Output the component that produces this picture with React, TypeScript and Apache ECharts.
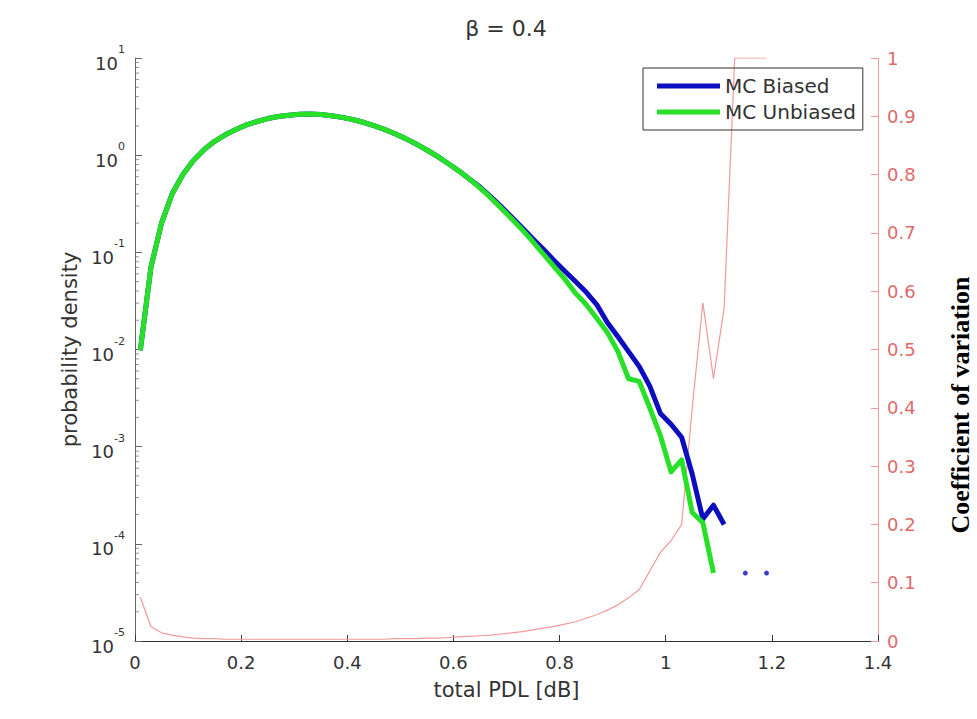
import React, { useEffect, useRef } from "react";
import * as echarts from "echarts";

// total PDL bin centres [dB]
const pdl = [
  0.01, 0.03, 0.05, 0.07, 0.09, 0.11, 0.13, 0.15, 0.17, 0.19,
  0.21, 0.23, 0.25, 0.27, 0.29, 0.31, 0.33, 0.35, 0.37, 0.39,
  0.41, 0.43, 0.45, 0.47, 0.49, 0.51, 0.53, 0.55, 0.57, 0.59,
  0.61, 0.63, 0.65, 0.67, 0.69, 0.71, 0.73, 0.75, 0.77, 0.79,
  0.81, 0.83, 0.85, 0.87, 0.89, 0.91, 0.93, 0.95, 0.97, 0.99,
  1.01, 1.03, 1.05, 1.07, 1.09, 1.11, 1.13, 1.15, 1.17, 1.19,
];

// probability density, MC biased
const mcBiased = [
  0.0098, 0.07, 0.2, 0.4, 0.63, 0.88, 1.14, 1.39, 1.62, 1.84,
  2.05, 2.22, 2.38, 2.5, 2.58, 2.64, 2.65, 2.62, 2.55, 2.45,
  2.33, 2.18, 2.01, 1.84, 1.66, 1.48, 1.3, 1.13, 0.97, 0.82,
  0.69, 0.57, 0.47, 0.375, 0.295, 0.23, 0.178, 0.137, 0.107, 0.082,
  0.064, 0.05, 0.039, 0.029, 0.019, 0.0135, 0.0095, 0.0067, 0.0042, 0.0022,
  0.0017, 0.00125, 0.00052, 0.00018, 0.00025, 0.000158, null, 0.00005, null, 0.00005,
];

// probability density, MC unbiased
const mcUnbiased = [
  0.0098, 0.07, 0.2, 0.4, 0.63, 0.88, 1.14, 1.39, 1.62, 1.84,
  2.05, 2.22, 2.38, 2.5, 2.58, 2.64, 2.65, 2.62, 2.55, 2.45,
  2.33, 2.18, 2.01, 1.84, 1.66, 1.48, 1.3, 1.13, 0.97, 0.82,
  0.69, 0.57, 0.46, 0.365, 0.285, 0.22, 0.17, 0.128, 0.095, 0.071,
  0.053, 0.038, 0.029, 0.021, 0.015, 0.0095, 0.005, 0.0047, 0.0025, 0.0013,
  0.00055, 0.00073, 0.00021, 0.000165, 0.00005, null, null, null, null, null,
];

// coefficient of variation (right axis)
const coefVar = [
  0.075, 0.025, 0.014, 0.01, 0.007, 0.005, 0.004, 0.004, 0.003, 0.003,
  0.003, 0.003, 0.003, 0.003, 0.003, 0.003, 0.003, 0.003, 0.003, 0.003,
  0.003, 0.003, 0.003, 0.003, 0.004, 0.004, 0.004, 0.005, 0.005, 0.006,
  0.007, 0.008, 0.009, 0.01, 0.012, 0.014, 0.016, 0.019, 0.022, 0.025,
  0.029, 0.033, 0.039, 0.045, 0.053, 0.062, 0.074, 0.088, 0.12, 0.152,
  0.172, 0.2, 0.4, 0.58, 0.45, 0.57, 1.0, 1.0, 1.0, 1.0,
];

const seriesNames = ["MC Biased", "MC Unbiased"];

// log-axis minor tick positions: decades and in-decade multipliers
const decades = [0.00001, 0.0001, 0.001, 0.01, 0.1, 1];
const minorMultipliers = [2, 3, 4, 5, 6, 7, 8, 9];

export default function App() {
  const ref = useRef<HTMLDivElement>(null);
  useEffect(() => {
    const chart = echarts.init(ref.current!, null, { renderer: "svg" });
    const font = "DejaVu Sans";
    const blue = "#0d0dc0";
    const green = "#27e027";
    const red = "#f29a9a";
    const toPairs = (arr: (number | null)[]) =>
      pdl.map((x, i) => [x, arr[i] == null ? "-" : arr[i]]);
    const isolated = (arr: (number | null)[]) =>
      pdl
        .map((x, i) => [x, arr[i]] as [number, number | null])
        .filter(
          (_, i) =>
            arr[i] != null &&
            (i === 0 || arr[i - 1] == null) &&
            (i === arr.length - 1 || arr[i + 1] == null)
        );
    const minorTicks: number[][] = [];
    decades.forEach((d) => minorMultipliers.forEach((m) => minorTicks.push([0, d * m])));

    chart.setOption({
      animation: false,
      backgroundColor: "#ffffff",
      textStyle: { fontFamily: font },
      grid: { left: 135, right: 99, top: 58, bottom: 78, containLabel: false },
      legend: {
        data: seriesNames,
        orient: "vertical",
        left: 643,
        top: 68,
        padding: [8, 7, 8, 14],
        itemWidth: 63,
        itemHeight: 5,
        itemGap: 6,
        icon: "rect",
        borderColor: "#333",
        borderWidth: 1,
        backgroundColor: "transparent",
        textStyle: { fontSize: 20, lineHeight: 20, color: "#333", fontFamily: font },
      },
      graphic: [
        {
          type: "text",
          x: 506,
          y: 28,
          style: {
            text: "β = 0.4",
            font: `22px "${font}"`,
            fill: "#333",
            textAlign: "center",
            textVerticalAlign: "middle",
          },
        },
        {
          type: "text",
          x: 960,
          y: 405,
          rotation: Math.PI / 2,
          style: {
            text: "Coefficient of variation",
            font: 'bold 26px "Liberation Serif"',
            lineHeight: 24,
            fill: "#000",
            textAlign: "center",
            textVerticalAlign: "middle",
          },
        },
      ],
      xAxis: {
        type: "value",
        min: 0,
        max: 1.4,
        interval: 0.2,
        name: "total PDL [dB]",
        nameLocation: "middle",
        nameGap: 38,
        nameTextStyle: { fontSize: 21, color: "#333", fontFamily: font },
        axisLine: { show: true, onZero: false, lineStyle: { color: "#333", width: 1 } },
        axisTick: { show: true, inside: true, length: 6, lineStyle: { color: "#333" } },
        axisLabel: { fontSize: 18, color: "#333", margin: 12, fontFamily: font },
        splitLine: { show: false },
      },
      yAxis: [
        {
          type: "log",
          logBase: 10,
          min: 0.00001,
          max: 10,
          interval: 1,
          position: "left",
          name: "probability density",
          nameLocation: "middle",
          nameGap: 54,
          nameTextStyle: { fontSize: 21, color: "#333", fontFamily: font },
          axisLine: { show: true, lineStyle: { color: "#666", width: 1 } },
          axisTick: { show: true, inside: true, length: 7, lineStyle: { color: "#666" } },
          axisLabel: {
            margin: 10,
            formatter: (v: number) => {
              const e = Math.round(Math.log10(v));
              return `{b|10}{s|${e}}`;
            },
            rich: {
              b: { fontSize: 18, fontFamily: font, color: "#333", lineHeight: 28, verticalAlign: "bottom" },
              s: { fontSize: 11, fontFamily: font, color: "#333", lineHeight: 14, verticalAlign: "top" },
            },
          },
          splitLine: { show: false },
        },
        {
          type: "value",
          min: 0,
          max: 1,
          interval: 0.1,
          position: "right",
          axisLine: { show: true, lineStyle: { color: red, width: 1 } },
          axisTick: { show: true, inside: true, length: 7, lineStyle: { color: red } },
          axisLabel: { fontSize: 18, color: "#e06a6a", margin: 9, fontFamily: font },
          splitLine: { show: false },
        },
      ],
      series: [
        {
          name: "minor ticks",
          type: "scatter",
          xAxisIndex: 0,
          yAxisIndex: 0,
          silent: true,
          clip: false,
          data: minorTicks,
          symbol: "rect",
          symbolSize: [4, 1],
          symbolOffset: [2, 0],
          itemStyle: { color: "#777" },
          z: 5,
        },
        {
          name: "Coefficient of variation",
          type: "line",
          yAxisIndex: 1,
          data: toPairs(coefVar),
          showSymbol: false,
          symbol: "none",
          lineStyle: { color: red, width: 1.2 },
          itemStyle: { color: red },
          z: 1,
        },
        {
          name: seriesNames[0],
          type: "line",
          yAxisIndex: 0,
          data: toPairs(mcBiased),
          showSymbol: false,
          symbol: "none",
          connectNulls: false,
          lineStyle: { color: blue, width: 5, join: "round" },
          itemStyle: { color: blue },
          z: 2,
        },
        {
          name: seriesNames[0] + " points",
          type: "scatter",
          yAxisIndex: 0,
          data: isolated(mcBiased),
          symbol: "circle",
          symbolSize: 5,
          itemStyle: { color: blue },
          z: 2,
        },
        {
          name: seriesNames[1],
          type: "line",
          yAxisIndex: 0,
          data: toPairs(mcUnbiased),
          showSymbol: false,
          symbol: "none",
          connectNulls: false,
          lineStyle: { color: green, width: 5, join: "round" },
          itemStyle: { color: green },
          z: 3,
        },
      ],
    });
    return () => chart.dispose();
  }, []);
  return (
    <div
      ref={ref}
      style={{ position: "fixed", left: 0, top: 0, width: 977, height: 719, background: "#fff" }}
    />
  );
}
